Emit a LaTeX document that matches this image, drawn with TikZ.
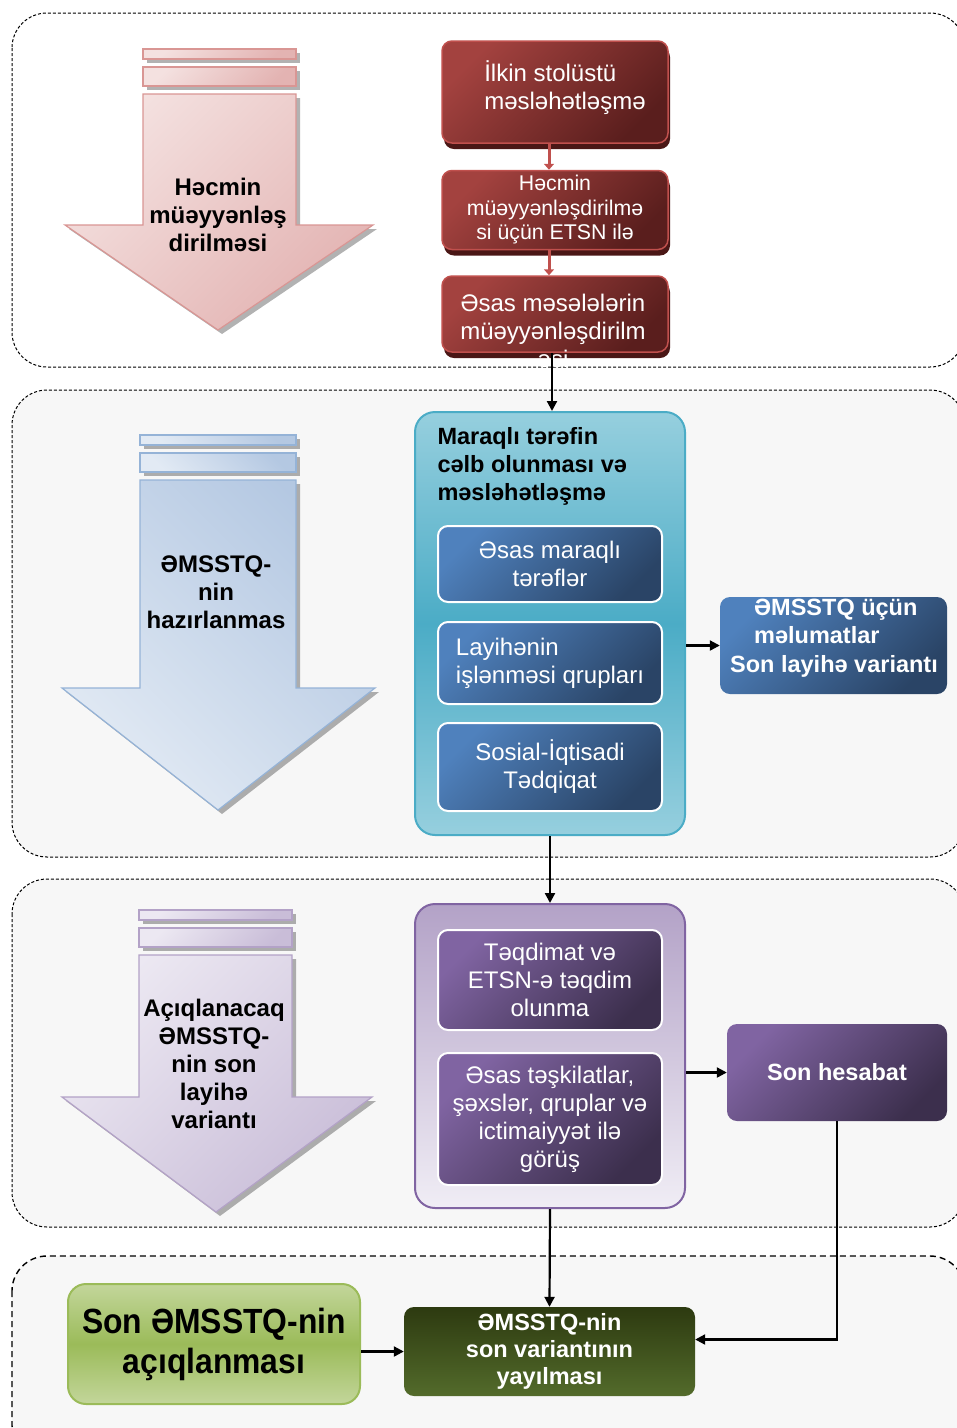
\documentclass[tikz,border=0pt]{standalone}
\usepackage{fontspec}
\setmainfont{Liberation Sans}
\newfontfamily\narrowfont[FakeStretch=0.91]{Liberation Sans}
\usetikzlibrary{arrows.meta,shadows}
\definecolor{panelgray}{HTML}{F7F7F7}
\definecolor{redline}{HTML}{C0504D}
\definecolor{redA}{HTML}{A3423F}
\definecolor{redB}{HTML}{5A1E1D}
\definecolor{redsh}{HTML}{4A1716}
\definecolor{blueA}{HTML}{4F81BD}
\definecolor{blueB}{HTML}{2A4466}
\definecolor{cyanA}{HTML}{96CFDE}
\definecolor{cyanB}{HTML}{4BACC6}
\definecolor{purA}{HTML}{8064A2}
\definecolor{purB}{HTML}{3C2F4D}
\definecolor{purC}{HTML}{B3A2C7}
\definecolor{purD}{HTML}{F0EDF5}
\definecolor{grnA}{HTML}{C3D69B}
\definecolor{grnB}{HTML}{9BBB59}
\definecolor{dgrA}{HTML}{2D3A10}
\definecolor{dgrB}{HTML}{536B2B}
\definecolor{arrRA}{HTML}{F4E1E0}
\definecolor{arrRB}{HTML}{E3B3B2}
\definecolor{arrRL}{HTML}{D99694}
\definecolor{arrBA}{HTML}{E2EAF4}
\definecolor{arrBB}{HTML}{B4C8E2}
\definecolor{arrBL}{HTML}{95B3D7}
\definecolor{arrPA}{HTML}{ECE8F2}
\definecolor{arrPB}{HTML}{C9BDD8}
\definecolor{arrPL}{HTML}{B3A2C7}
\begin{document}
\begin{tikzpicture}[x=1pt,y=-1pt,
  box/.style={rounded corners=10pt,align=center,inner sep=0pt,text=white,font=\fontsize{24}{28}\selectfont},
  redbox/.style={box,draw=redline,line width=1.5pt,top color=redA,bottom color=redB,shading angle=45,
    drop shadow={shadow xshift=2pt,shadow yshift=-6pt,fill=redsh,opacity=1}},
  bluebox/.style={box,draw=white,line width=2pt,top color=blueA,bottom color=blueB,shading angle=45},
  purbox/.style={box,draw=white,line width=2pt,top color=purA,bottom color=purB,shading angle=45},
  bigtxt/.style={align=center,font=\bfseries\fontsize{24}{28}\selectfont},
  arrshadow/.style={drop shadow={shadow xshift=4pt,shadow yshift=-4pt,fill=black,opacity=.3}},
  redarr/.style={draw=arrRL,line width=1.2pt,top color=arrRA,bottom color=arrRB,shading angle=45,arrshadow},
  bluearr/.style={draw=arrBL,line width=1.2pt,top color=arrBB,bottom color=arrBA,shading angle=-45,arrshadow},
  purarr/.style={draw=arrPL,line width=1.2pt,top color=arrPA,bottom color=arrPB,shading angle=45,arrshadow},
  conn/.style={-{Triangle[length=10pt,width=10pt]},line width=2.2pt},
  redconn/.style={-{Triangle[length=6pt,width=10pt]},line width=3pt,draw=redline}]
\useasboundingbox(0,0)rectangle(957,1428);
% panels
\foreach \t/\b/\f in {13/367/white,390/857/panelgray,879/1227/panelgray}
  \draw[fill=\f,rounded corners=35pt,dash pattern=on 3pt off 2pt,line width=1pt](12,\t)rectangle(965,\b);
\draw[fill=panelgray,rounded corners=35pt,dash pattern=on 6pt off 4pt,line width=1.4pt](12,1256)rectangle(965,1460);
% big arrows on the left
\foreach \c/\l/\r/\t/\h/\hl/\hr/\tx/\ty in {redarr/143/296/94/225/65/373/218/330,
  bluearr/140/296/480/688/62/375/218/810,purarr/139/292/955/1097/62/372/216/1212}{
  \draw[\c](\l,\t-45)rectangle(\r,\t-35);
  \draw[\c](\l,\t-27)rectangle(\r,\t-8);
  \draw[\c](\l,\t)--(\r,\t)--(\r,\h)--(\hr,\h)--(\tx,\ty)--(\hl,\h)--(\l,\h)--cycle;
}
\node[bigtxt](ta)at(218,215){Həcmin\\müəyyənləş\\dirilməsi};
\node[bigtxt](tb)at(216,592){ƏMSSTQ-\\nin\\hazırlanmas};
\node[bigtxt](tc)at(214,1064){Açıqlanacaq\\ƏMSSTQ-\\nin son\\layihə\\variantı};
% red steps
\node[redbox,minimum width=226,minimum height=102](r1)at(555,92){};
\node[align=left,text=white,font=\fontsize{24}{28}\selectfont](r1t)at(565,88){İlkin stolüstü\\məsləhətləşmə};
\node[redbox,minimum width=226,minimum height=79,font=\fontsize{21.3}{24.5}\selectfont](r2)at(555,210){Həcmin\\müəyyənləşdirilmə\\si üçün ETSN ilə};
\node[redbox,minimum width=226,minimum height=76](r3)at(555,314){};
\node[align=center,text=white,font=\fontsize{24}{28}\selectfont](r3t)at(553,331){Əsas məsələlərin\\müəyyənləşdirilm\\əsi};
\draw[redconn](r1.south-|549,0)--(r2.north-|549,0);
\draw[redconn](r2.south-|549,0)--(r3.north-|549,0);
% stakeholder block
\node[rounded corners=20pt,draw=cyanB,line width=2pt,top color=cyanA,bottom color=cyanA,middle color=cyanB,
  minimum width=270,minimum height=423](bc)at(550,623.5){};
\node[anchor=north west,align=left,font=\bfseries\fontsize{23.5}{28}\selectfont](bct)at(434,424){Maraqlı tərəfin\\cəlb olunması və\\məsləhətləşmə};
\node[bluebox,minimum width=224,minimum height=76](b1)at(550,564){Əsas maraqlı\\tərəflər};
\node[bluebox,align=left,minimum width=224,minimum height=82](b2)at(550,663){Layihənin\\işlənməsi qrupları};
\node[bluebox,minimum width=224,minimum height=88](b3)at(550,767){Sosial-İqtisadi\\Tədqiqat};
\node[box,top color=blueA,bottom color=blueB,shading angle=45,minimum width=227,minimum height=97](in)at(833.5,645.5){};
\node[align=left,text=white,font=\bfseries\fontsize{23.5}{28.5}\selectfont](int)at(834,638){\hspace*{24pt}ƏMSSTQ üçün\\\hspace*{24pt}məlumatlar\\Son layihə variantı};
\draw[conn](r3.south-|552,0)--(bc.north-|552,0);
\draw[conn](bc.east|-in.west)--(in.west);
% presentation block
\node[rounded corners=20pt,draw=purA,line width=2pt,top color=purC,bottom color=purD,
  minimum width=270,minimum height=304](pc)at(550,1056){};
\node[purbox,minimum width=224,minimum height=100](p1)at(550,980){Təqdimat və\\ETSN-ə təqdim\\olunma};
\node[purbox,minimum width=224,minimum height=132](p2)at(550,1119){Əsas təşkilatlar,\\şəxslər, qruplar və\\ictimaiyyət ilə\\görüş};
\node[box,top color=purA,bottom color=purB,shading angle=45,font=\bfseries\fontsize{23.5}{27}\selectfont,
  minimum width=220,minimum height=97](sh)at(837,1072.5){Son hesabat};
\draw[conn](bc.south)--(pc.north);
\draw[conn](pc.east|-sh.west)--(sh.west);
% disclosure
\node[box,rounded corners=18pt,draw=grnB,line width=2pt,top color=grnA,bottom color=grnA,middle color=grnB,text=black,
  font=\narrowfont\bfseries\fontsize{35}{40}\selectfont,minimum width=292,minimum height=120](lg)at(214,1344){Son ƏMSSTQ-nin\\açıqlanması};
\node[box,top color=dgrA,bottom color=dgrB,font=\bfseries\fontsize{23.5}{27}\selectfont,
  minimum width=291,minimum height=89](dg)at(549.5,1351.5){ƏMSSTQ-nin\\son variantının\\yayılması};
\draw[conn](pc.south)--(dg.north);
\draw[conn](lg.east|-dg.west)--(dg.west);
\draw[conn](sh.south)|-([yshift=12]dg.east);
\end{tikzpicture}
\end{document}
